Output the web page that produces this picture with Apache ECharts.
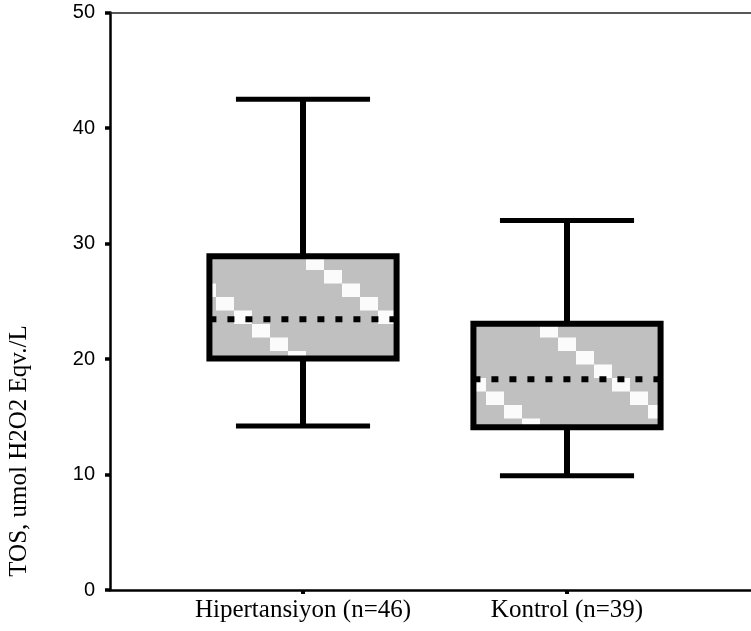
<!DOCTYPE html>
<html>
<head>
<meta charset="utf-8">
<script src="https://cdn.jsdelivr.net/npm/echarts@6/dist/echarts.min.js"></script>
<style>
html,body{margin:0;padding:0;background:#fff;}
#chart{width:751px;height:631px;}
</style>
</head>
<body>
<div id="chart"></div>
<script>
// ---- data ----
var categories = ['Hipertansiyon (n=46)', 'Kontrol (n=39)'];
var minVals = [14.2, 9.9];
var q1Vals = [20.05, 14.1];
var medianVals = [23.45, 18.25];
var q3Vals = [28.9, 23.05];
var maxVals = [42.5, 32.0];
var yTickValues = [0, 10, 20, 30, 40, 50];
var yTitle = 'TOS, umol H2O2 Eqv./L';

// pattern tile imitating the grey fill with white diagonal steps
function makePattern() {
  var c = document.createElement('canvas');
  c.width = 144; c.height = 108;
  var ctx = c.getContext('2d');
  ctx.fillStyle = '#c0c0c0';
  ctx.fillRect(0, 0, 144, 108);
  ctx.fillStyle = '#fbfbfb';
  for (var i = 0; i < 8; i++) {
    var y = (27 + 13.5 * i) % 108;
    ctx.fillRect(i * 18, y, 18, 13.5);
    if (y + 13.5 > 108) ctx.fillRect(i * 18, y - 108, 18, 13.5);
  }
  return c;
}
var pattern = { image: makePattern(), repeat: 'repeat' };

var boxData = categories.map(function (c, i) {
  return [i + 1, minVals[i], q1Vals[i], medianVals[i], q3Vals[i], maxVals[i]];
});

var chart = echarts.init(document.getElementById('chart'), null, { renderer: 'canvas' });

var BOX_HALF = 0.3545, CAP_HALF = 0.254;

function renderItem(params, api) {
  var x = api.value(0);
  var vMin = api.value(1), vQ1 = api.value(2), vMed = api.value(3), vQ3 = api.value(4), vMax = api.value(5);
  var pMin = api.coord([x, vMin]), pQ1 = api.coord([x, vQ1]), pMed = api.coord([x, vMed]),
      pQ3 = api.coord([x, vQ3]), pMax = api.coord([x, vMax]);
  var bl = api.coord([x - BOX_HALF, vQ3]), br = api.coord([x + BOX_HALF, vQ1]);
  var cl = api.coord([x - CAP_HALF, vMax])[0], cr = api.coord([x + CAP_HALF, vMax])[0];
  var black = '#000';
  return {
    type: 'group',
    children: [
      { type: 'line', shape: { x1: pMax[0], y1: pMax[1], x2: pQ3[0], y2: pQ3[1] }, style: { stroke: black, lineWidth: 6 } },
      { type: 'line', shape: { x1: pQ1[0], y1: pQ1[1], x2: pMin[0], y2: pMin[1] }, style: { stroke: black, lineWidth: 6 } },
      { type: 'line', shape: { x1: cl, y1: pMax[1], x2: cr, y2: pMax[1] }, style: { stroke: black, lineWidth: 5 } },
      { type: 'line', shape: { x1: cl, y1: pMin[1], x2: cr, y2: pMin[1] }, style: { stroke: black, lineWidth: 5 } },
      { type: 'rect', shape: { x: bl[0], y: bl[1], width: br[0] - bl[0], height: br[1] - bl[1] },
        style: { fill: pattern, stroke: black, lineWidth: 6 } },
      { type: 'line', shape: { x1: bl[0], y1: pMed[1], x2: br[0], y2: pMed[1] },
        style: { stroke: black, lineWidth: 6, lineDash: [7, 11], lineCap: 'butt' } }
    ]
  };
}

var xMin = 1 - 193 / 264, xMax = xMin + 641 / 264;

chart.setOption({
  animation: false,
  backgroundColor: '#fff',
  grid: { left: 110, right: 0, top: 12.5, bottom: 41, containLabel: false },
  xAxis: [{
    type: 'value', min: xMin, max: xMax, position: 'bottom',
    axisLine: { show: true, onZero: false, lineStyle: { color: '#000', width: 2.5 } },
    axisTick: { show: true, length: 4, inside: false, customValues: [1, 2], lineStyle: { color: '#000', width: 4 } },
    axisLabel: {
      show: true, customValues: [1, 2], margin: 8,
      fontFamily: 'Liberation Serif', fontSize: 25, color: '#000',
      formatter: function (v) { return categories[Math.round(v) - 1] || ''; }
    },
    splitLine: { show: false }
  }, {
    type: 'value', min: xMin, max: xMax, position: 'top',
    axisLine: { show: true, onZero: false, lineStyle: { color: '#222', width: 1.5 } },
    axisTick: { show: false }, axisLabel: { show: false }, splitLine: { show: false }
  }],
  yAxis: {
    type: 'value', min: 0, max: 50, interval: 10,
    axisLine: { show: true, onZero: false, lineStyle: { color: '#000', width: 2.5 } },
    axisTick: { show: true, length: 5, lineStyle: { color: '#000', width: 3.5 } },
    axisLabel: {
      margin: 15, fontFamily: 'Liberation Sans', fontSize: 20, color: '#000',
      formatter: function (v) { return yTickValues.indexOf(v) >= 0 ? String(v) : ''; }
    },
    splitLine: { show: false }
  },
  graphic: [{
    type: 'text', x: 19.5, y: 451, rotation: Math.PI / 2,
    style: { text: yTitle, fontFamily: 'Liberation Serif', fontSize: 25, fill: '#000', align: 'center', verticalAlign: 'middle' }
  }],
  series: [{
    type: 'custom', renderItem: renderItem, data: boxData,
    encode: { x: 0, y: [1, 2, 3, 4, 5] }, clip: false
  }]
});
</script>
</body>
</html>
